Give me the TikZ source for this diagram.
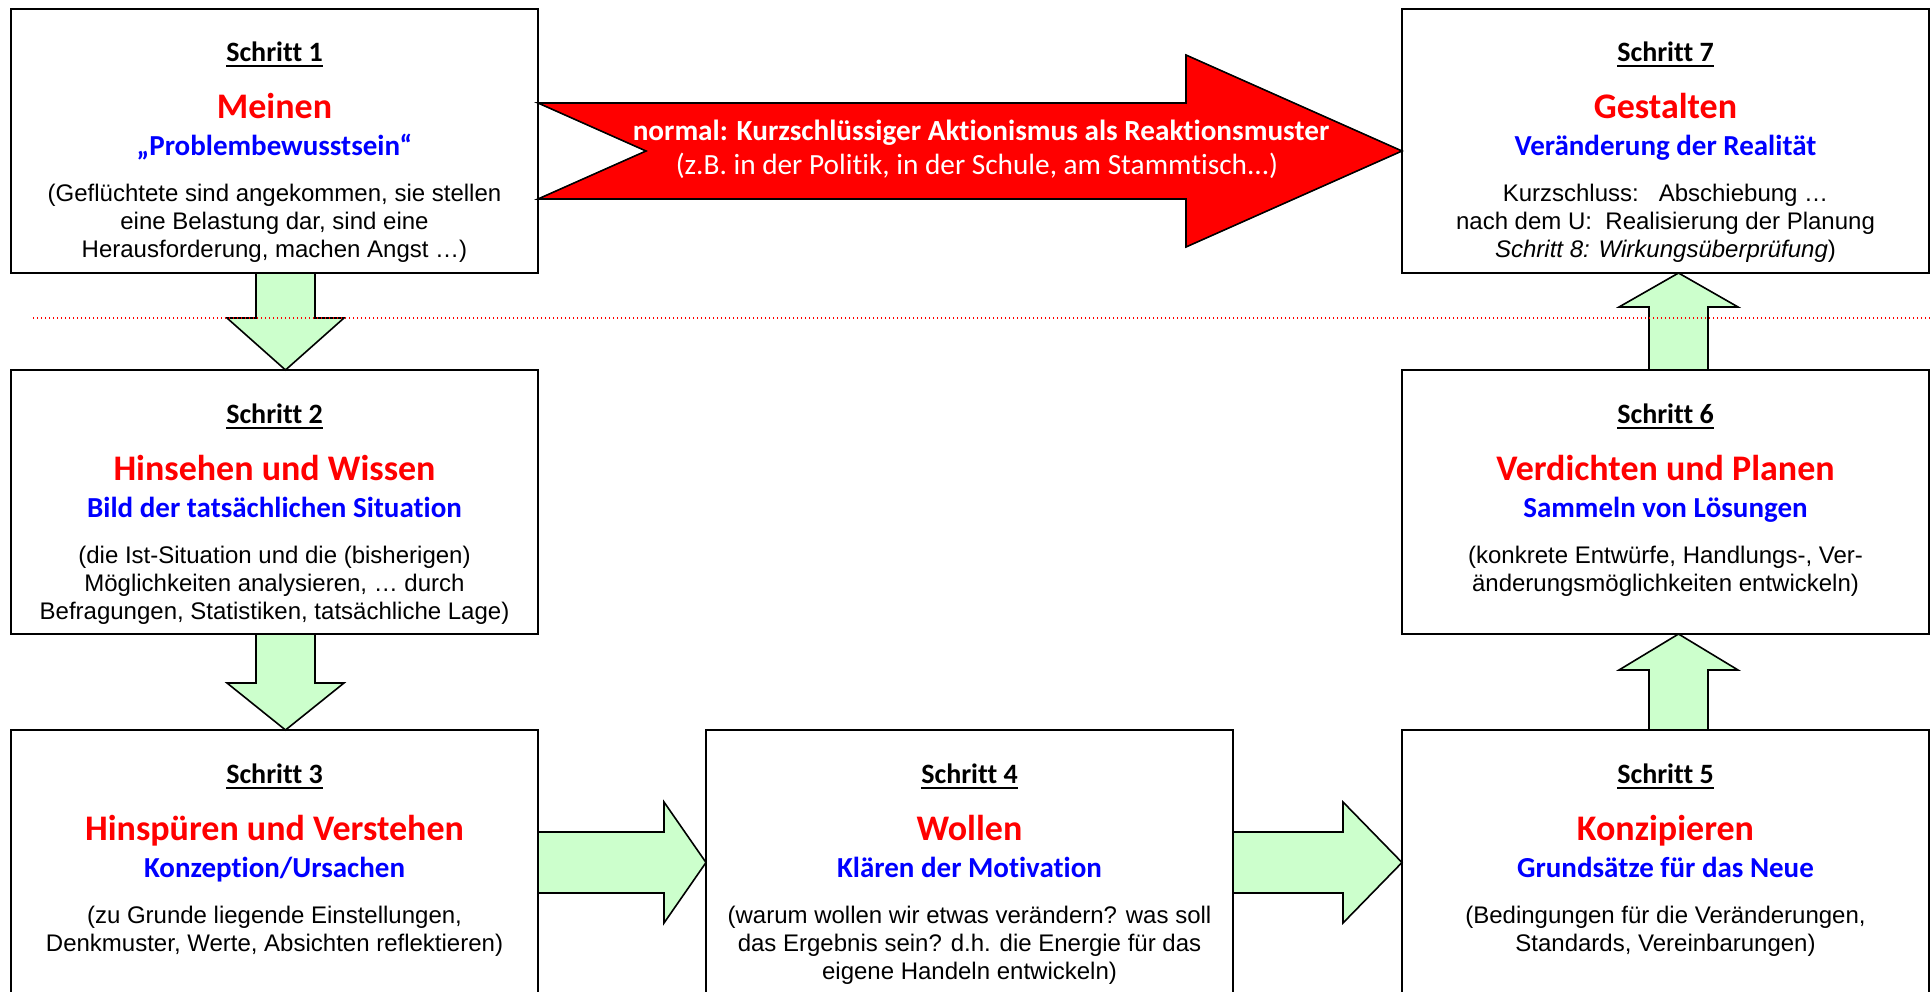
\documentclass[tikz,border=0pt]{standalone}
\usepackage{fontspec}
\setmainfont{Liberation Sans}
\newfontfamily\carl[Ligatures=NoCommon]{Carlito}
\usetikzlibrary{calc}
\definecolor{hgreen}{HTML}{CCFFCC}
\definecolor{tred}{HTML}{FF0000}
\definecolor{tblue}{HTML}{0000FF}
\tikzset{
  stepbox/.style={draw=black, line width=1.6pt, fill=white, minimum width=527pt, minimum height=264pt, inner sep=0pt, outer sep=0pt, anchor=north west},
  lbltxt/.style={anchor=base, inner sep=0pt, font=\carl\bfseries\fontsize{28}{32}\selectfont},
  ttltxt/.style={anchor=base, inner sep=0pt, text=tred, font=\carl\bfseries\fontsize{36}{40}\selectfont},
  subtxt/.style={anchor=base, inner sep=0pt, text=tblue, font=\carl\bfseries\fontsize{29}{33}\selectfont},
  bodytxt/.style={anchor=base, inner sep=0pt, align=center, font=\fontsize{24}{28}\selectfont},
  ulline/.style={line width=2pt},
  blockarrow/.style={draw=black, line width=1.6pt, fill=hgreen, line join=miter},
  redarrow/.style={draw=black, line width=1.6pt, fill=tred, line join=miter},
  arrtxt/.style={anchor=base, inner sep=0pt, text=white, font=\carl\fontsize{29.3}{33}\selectfont},
  dotline/.style={draw=tred, line width=1.2pt, dash pattern=on 1.4pt off 2.6pt},
}
% #8 = number of body lines
\newcommand\mkstep[8]{%
  \node[stepbox] (#1) at (#2,#3) {};
  \node[lbltxt] (#1l) at ($(#1.north)+(0,53)$) {#4};
  \draw[ulline] ($(#1l.base west)+(0,4.5)$) -- ($(#1l.base east)+(0,4.5)$);
  \node[ttltxt] (#1t) at ($(#1.north)+(0,110)$) {#5};
  \node[subtxt] (#1s) at ($(#1.north)+(0,147)$) {#6};
  \node[bodytxt] (#1b) at ($(#1.north)+(0,{193+28*(#8-1)})$) {#7};
}
\begin{document}
\begin{tikzpicture}[x=1pt, y=-1pt]
\clip (0,0) rectangle (1930,992);
\fill[white] (0,0) rectangle (1930,992);

\mkstep{b1}{11}{9}{Schritt 1}{Meinen}{„Problembewusstsein“}{(Geflüchtete sind angekommen, sie stellen\\eine Belastung dar, sind eine\\Herausforderung, machen Angst …)}{3}
\mkstep{b7}{1402}{9}{Schritt 7}{Gestalten}{Veränderung der Realität}{Kurzschluss:~~~Abschiebung …\\nach dem U:~~Realisierung der Planung\\\textit{Schritt 8: Wirkungsüberprüfung})}{3}
\mkstep{b2}{11}{370}{Schritt 2}{Hinsehen und Wissen}{Bild der tatsächlichen Situation}{(die Ist-Situation und die (bisherigen)\\Möglichkeiten analysieren, … durch\\Befragungen, Statistiken, tatsächliche Lage)}{3}
\mkstep{b6}{1402}{370}{Schritt 6}{Verdichten und Planen}{Sammeln von Lösungen}{(konkrete Entwürfe, Handlungs-, Ver-\\änderungsmöglichkeiten entwickeln)}{2}
\mkstep{b3}{11}{730}{Schritt 3}{Hinspüren und Verstehen}{Konzeption/Ursachen}{(zu Grunde liegende Einstellungen,\\Denkmuster, Werte, Absichten reflektieren)}{2}
\mkstep{b4}{706}{730}{Schritt 4}{Wollen}{Klären der Motivation}{(warum wollen wir etwas verändern? was soll\\das Ergebnis sein? d.h. die Energie für das\\eigene Handeln entwickeln)}{3}
\mkstep{b5}{1402}{730}{Schritt 5}{Konzipieren}{Grundsätze für das Neue}{(Bedingungen für die Veränderungen,\\Standards, Vereinbarungen)}{2}

% red short-circuit arrow b1 -> b7
\draw[redarrow] (538,103) -- (1186,103) -- (1186,55) -- (1402,151) -- (1186,247) -- (1186,199) -- (538,199) -- (646,151) -- cycle;
\node[arrtxt, font=\carl\bfseries\fontsize{29.2}{33}\selectfont] (ra1) at (981,141) {normal: Kurzschlüssiger Aktionismus als Reaktionsmuster};
\node[arrtxt] (ra2) at (977,175) {(z.B. in der Politik, in der Schule, am Stammtisch...)};

% green block arrows
\draw[blockarrow] (256,273) -- (315,273) -- (315,318) -- (344,318) -- (285.5,370) -- (227,318) -- (256,318) -- cycle;
\draw[blockarrow] (256,634) -- (315,634) -- (315,683) -- (344,683) -- (285.5,730) -- (227,683) -- (256,683) -- cycle;
\draw[blockarrow] (538,832) -- (664,832) -- (664,802) -- (706,862.5) -- (664,923) -- (664,893) -- (538,893) -- cycle;
\draw[blockarrow] (1233,832) -- (1343,832) -- (1343,802) -- (1402,862.5) -- (1343,923) -- (1343,893) -- (1233,893) -- cycle;
\draw[blockarrow] (1649,730) -- (1708,730) -- (1708,670) -- (1738,670) -- (1678.5,634) -- (1619,670) -- (1649,670) -- cycle;
\draw[blockarrow] (1649,370) -- (1708,370) -- (1708,307) -- (1738,307) -- (1678.5,273) -- (1619,307) -- (1649,307) -- cycle;

% dotted separator
\draw[dotline] (33,318) -- (1930,318);
\end{tikzpicture}
\end{document}
